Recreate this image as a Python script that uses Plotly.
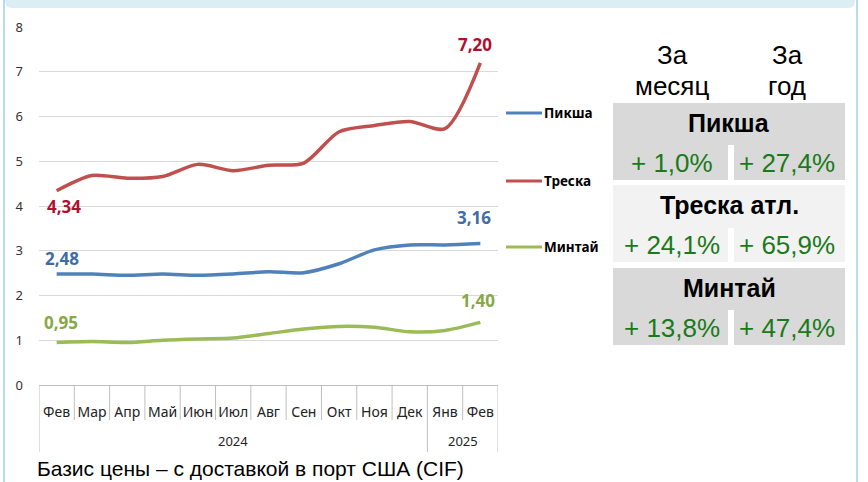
import plotly.graph_objects as go

months = ["Фев", "Мар", "Апр", "Май", "Июн", "Июл", "Авг", "Сен", "Окт", "Ноя", "Дек", "Янв", "Фев"]
years = ["2024"] * 11 + ["2025"] * 2

haddock = [2.48, 2.48, 2.45, 2.48, 2.45, 2.48, 2.53, 2.51, 2.71, 3.02, 3.13, 3.13, 3.16]
cod = [4.34, 4.68, 4.62, 4.66, 4.93, 4.79, 4.91, 4.96, 5.66, 5.80, 5.89, 5.73, 7.20]
pollock = [0.95, 0.97, 0.95, 1.00, 1.03, 1.05, 1.15, 1.25, 1.31, 1.29, 1.19, 1.22, 1.40]

series_names = ["Пикша", "Треска", "Минтай"]
table_titles = ["Пикша", "Треска атл.", "Минтай"]
month_change = ["+ 1,0%", "+ 24,1%", "+ 13,8%"]
year_change = ["+ 27,4%", "+ 65,9%", "+ 47,4%"]

W, H = 868, 482
ML, MR, MT, MB = 39, 370, 27, 97
PW, PH = W - ML - MR, H - MT - MB


def px(x):
    return (x - ML) / PW


def py(y):
    return (H - MB - y) / PH


def fmt(v):
    return f"{v:.2f}".replace(".", ",")


idx = list(range(len(months)))
line_cols = ["#4F81BD", "#C0504D", "#9BBB59"]
label_cols = ["#3F6CA6", "#B0102E", "#86A845"]
# label offsets (pixels): (first dx, first dy, last dx, last dy)
label_off = [(5, 16, -6, 26), (7, -16, -5, 18), (4, 20, -2, 22)]

fig = go.Figure()
annotations = []
for name, vals, lc, tc, off in zip(series_names, [haddock, cod, pollock], line_cols, label_cols, label_off):
    fig.add_trace(go.Scatter(
        x=idx, y=vals, name=name, mode="lines",
        line=dict(color=lc, width=3.5, shape="spline", smoothing=0.8),
        showlegend=False, hoverinfo="x+y",
    ))
    for i, dx, dy in [(0, off[0], off[1]), (len(vals) - 1, off[2], off[3])]:
        annotations.append(dict(xref="x", yref="y", x=idx[i], y=vals[i], text=fmt(vals[i]),
                                showarrow=False, xanchor="center", yanchor="middle",
                                xshift=dx, yshift=dy,
                                font=dict(family="Noto Sans", size=17, color=tc, weight="bold")))

shapes = []

# frame: top band with rounded bottom corners, side rules
r = 7
band_path = (f"M {px(5)},{py(0)} L {px(855)},{py(0)} L {px(855)},{py(8 - r)} "
             f"Q {px(855)},{py(8)} {px(855 - r)},{py(8)} L {px(5 + r)},{py(8)} "
             f"Q {px(5)},{py(8)} {px(5)},{py(8 - r)} Z")
shapes.append(dict(type="path", xref="paper", yref="paper", path=band_path,
                   fillcolor="#DAEEF3", line=dict(width=0), layer="below"))
shapes.append(dict(type="line", xref="paper", yref="paper", x0=px(4), x1=px(4), y0=py(0), y1=py(482),
                   line=dict(color="#B7DEE8", width=2)))
shapes.append(dict(type="line", xref="paper", yref="paper", x0=px(857), x1=px(857), y0=py(0), y1=py(482),
                   line=dict(color="#B7DEE8", width=2)))

# category separators (month ticks) and year dividers
axis_grey = "#BFBFBF"
for i in range(len(months) + 1):
    b = i - 0.5
    is_year_edge = i == 0 or i == len(months) or years[i] != years[i - 1]
    shapes.append(dict(type="line", xref="x", yref="paper", x0=b, x1=b, y0=0,
                       y1=py(452) if is_year_edge else py(420),
                       line=dict(color=axis_grey, width=1)))

# year labels
uniq_years = []
for y in years:
    if y not in uniq_years:
        uniq_years.append(y)
for y in uniq_years:
    pos = [i for i, yy in enumerate(years) if yy == y]
    annotations.append(dict(xref="x", yref="paper", x=(pos[0] + pos[-1]) / 2, y=py(441), text=y,
                            showarrow=False, xanchor="center", yanchor="middle",
                            font=dict(family="Noto Sans", size=13, color="#222222")))

# custom legend
leg_y = [113, 181, 247]
for name, lc, yy in zip(series_names, line_cols, leg_y):
    shapes.append(dict(type="line", xref="paper", yref="paper", x0=px(506), x1=px(542), y0=py(yy), y1=py(yy),
                       line=dict(color=lc, width=3)))
    annotations.append(dict(xref="paper", yref="paper", x=px(542), y=py(yy), text=name, showarrow=False,
                            xanchor="left", yanchor="middle",
                            font=dict(family="Noto Sans", size=13.5, color="#000000", weight="bold")))

# table headers
for cx, t1, t2 in [(672, "За", "месяц"), (787, "За", "год")]:
    annotations.append(dict(xref="paper", yref="paper", x=px(cx), y=py(55), text=t1, showarrow=False,
                            xanchor="center", yanchor="middle",
                            font=dict(family="Liberation Sans", size=26, color="#000000")))
    annotations.append(dict(xref="paper", yref="paper", x=px(cx), y=py(86), text=t2, showarrow=False,
                            xanchor="center", yanchor="middle",
                            font=dict(family="Liberation Sans", size=26, color="#000000")))

# table blocks
blocks = [(103, 145, 180, "#D9D9D9"), (185, 228, 262, "#F2F2F2"), (268, 310, 345, "#D9D9D9")]
for (y0, ym, y1, col), title, mc, yc in zip(blocks, table_titles, month_change, year_change):
    shapes.append(dict(type="rect", xref="paper", yref="paper", x0=px(613), x1=px(845), y0=py(y1), y1=py(y0),
                       fillcolor=col, line=dict(width=0), layer="below"))
    shapes.append(dict(type="rect", xref="paper", yref="paper", x0=px(728), x1=px(734), y0=py(y1), y1=py(ym),
                       fillcolor="#FFFFFF", line=dict(width=0), layer="below"))
    annotations.append(dict(xref="paper", yref="paper", x=px(729), y=py((y0 + ym) / 2 - 1.5), text=title,
                            showarrow=False, xanchor="center", yanchor="middle",
                            font=dict(family="Liberation Sans", size=25, color="#000000", weight="bold")))
    annotations.append(dict(xref="paper", yref="paper", x=px(672), y=py((ym + y1) / 2), text=mc,
                            showarrow=False, xanchor="center", yanchor="middle",
                            font=dict(family="Liberation Sans", size=26, color="#1A7A1A")))
    annotations.append(dict(xref="paper", yref="paper", x=px(787), y=py((ym + y1) / 2), text=yc,
                            showarrow=False, xanchor="center", yanchor="middle",
                            font=dict(family="Liberation Sans", size=26, color="#1A7A1A")))

# footnote
annotations.append(dict(xref="paper", yref="paper", x=px(35), y=py(468),
                        text="Базис цены – с доставкой в порт США (CIF)", showarrow=False,
                        xanchor="left", yanchor="middle",
                        font=dict(family="Liberation Sans", size=21, color="#000000")))

fig.update_layout(
    width=W, height=H, margin=dict(l=ML, r=MR, t=MT, b=MB, autoexpand=False),
    paper_bgcolor="#FFFFFF", plot_bgcolor="#FFFFFF",
    shapes=shapes, annotations=annotations,
    xaxis=dict(tickmode="array", tickvals=idx, ticktext=months, tickangle=0,
               showgrid=False, zeroline=False, showline=True, linecolor=axis_grey, linewidth=1,
               ticks="", ticklabelstandoff=14,
               tickfont=dict(family="Noto Sans", size=14, color="#222222"),
               range=[-0.5, len(months) - 0.5], fixedrange=True),
    yaxis=dict(range=[0, 8], dtick=1, showgrid=True, gridcolor="#D9D9D9", gridwidth=1,
               zeroline=False, showline=False, ticks="", ticklabelstandoff=15,
               tickfont=dict(family="Noto Sans", size=13, color="#333333"), fixedrange=True),
    font=dict(family="Noto Sans"),
)

fig.write_html("out.html", post_script="document.body.style.margin='0';",
               config={"displayModeBar": False})
